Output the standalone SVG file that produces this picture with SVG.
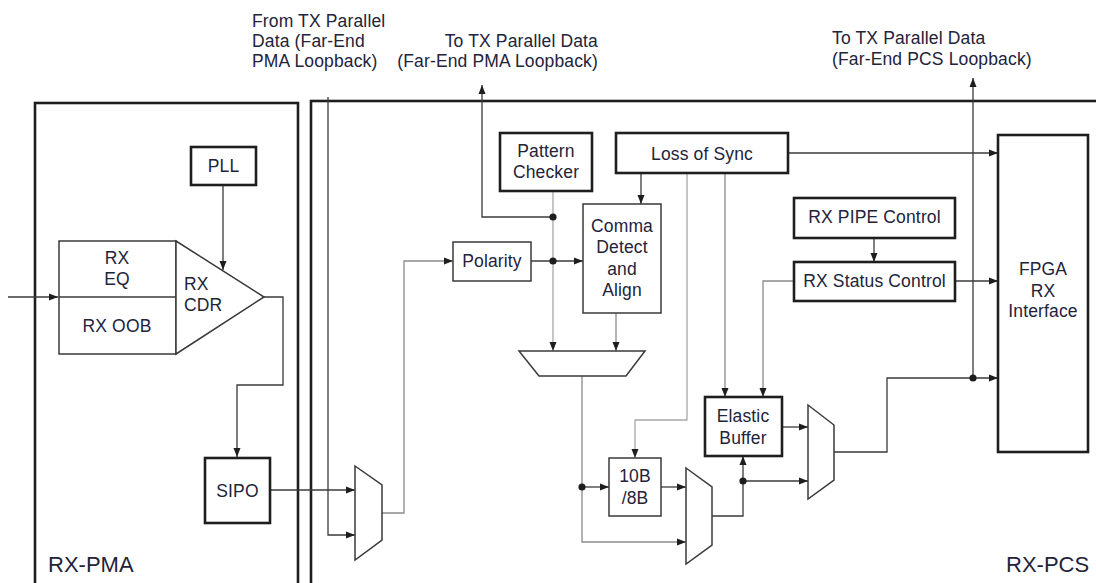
<svg xmlns="http://www.w3.org/2000/svg" width="1096" height="583" viewBox="0 0 1096 583">
  <style>
    text { font-family: "Liberation Sans", Arial, sans-serif; font-size: 17.5px; letter-spacing: 0.15px; fill: #23233a; }
    .mid { text-anchor: middle; }
    .end { text-anchor: end; }
    .big { font-size: 22px; letter-spacing: 0; }
    .frame { fill: none; stroke: #1e1e1e; stroke-width: 2.6; }
    .thick { fill: #fff; stroke: #1e1e1e; stroke-width: 2.6; }
    .thin { fill: #fff; stroke: #3a3a3a; stroke-width: 1.5; }
    .wire { fill: none; stroke: #3a3a3a; stroke-width: 1.3; }
    .wire.grey { stroke: #8a8a8a; }
    .wire.light { stroke: #a8a8a8; }
    .arr { marker-end: url(#head); }
    .dot { fill: #1e1e1e; }
  </style>
  <defs>
    <marker id="head" markerUnits="userSpaceOnUse" markerWidth="10" markerHeight="8" refX="9" refY="4" orient="auto">
      <path d="M0,0.5 L9,4 L0,7.5 Z" fill="#1e1e1e"/>
    </marker>
  </defs>

  <rect width="1096" height="583" fill="#fff"/>

  <!-- block outlines -->
  <g id="rx-pma">
    <rect class="frame" x="35" y="103" width="263" height="500"/>
    <text class="big" x="48" y="572">RX-PMA</text>
  </g>
  <g id="rx-pcs">
    <rect class="frame" x="311" y="101" width="800" height="500"/>
    <text class="big" x="1006" y="572">RX-PCS</text>
  </g>

  <!-- loopback labels -->
  <g id="label-pma-in">
    <text x="252" y="26.5">From TX Parallel</text>
    <text x="252" y="46.5">Data (Far-End</text>
    <text x="252" y="66.5">PMA Loopback)</text>
  </g>
  <g id="label-pma-out">
    <text class="end" x="598" y="46.5">To TX Parallel Data</text>
    <text class="end" x="598" y="66.5">(Far-End PMA Loopback)</text>
  </g>
  <g id="label-pcs-out">
    <text x="832" y="43.5">To TX Parallel Data</text>
    <text x="832" y="64.5">(Far-End PCS Loopback)</text>
  </g>

  <!-- connectors -->
  <g id="connectors">
    <path class="wire arr" d="M8,297 H58"/>
    <path class="wire arr" d="M223,185 V270"/>
    <path class="wire arr" d="M264,297 H283 V385 H237 V457"/>
    <path class="wire arr" d="M270,490 H355"/>
    <path class="wire arr" d="M328,97 V535 H355"/>
    <path class="wire grey arr" d="M382,513 H404 V261 H453"/>
    <path class="wire arr" d="M531,261 H583"/>
    <path class="wire arr" d="M553,217 H482 V85"/>
    <path class="wire light arr" d="M553,191 V351"/>
    <path class="wire grey arr" d="M616,313 V351"/>
    <path class="wire arr" d="M641,173 V204"/>
    <path class="wire light arr" d="M687,173 V420 H635 V458"/>
    <path class="wire grey arr" d="M725,173 V397"/>
    <path class="wire arr" d="M788,153 H998"/>
    <path class="wire arr" d="M874,238 V262"/>
    <path class="wire arr" d="M955,281 H998"/>
    <path class="wire grey arr" d="M794,281 H763 V397"/>
    <path class="wire grey arr" d="M582,376 V542 H686"/>
    <path class="wire arr" d="M582,487 H609"/>
    <path class="wire arr" d="M661,487 H686"/>
    <path class="wire arr" d="M712,516 H743 V456"/>
    <path class="wire arr" d="M743,481 H808"/>
    <path class="wire arr" d="M782,427 H808"/>
    <path class="wire arr" d="M834,452 H887 V378 H998"/>
    <path class="wire arr" d="M973,378 V78"/>
    <circle class="dot" cx="553" cy="217" r="3.6"/>
    <circle class="dot" cx="553" cy="261" r="3.6"/>
    <circle class="dot" cx="582" cy="487" r="3.6"/>
    <circle class="dot" cx="743" cy="481" r="3.6"/>
    <circle class="dot" cx="973" cy="378" r="3.6"/>
  </g>

  <!-- RX-PMA nodes -->
  <g id="pll">
    <rect class="thick" x="191" y="147" width="65" height="38"/>
    <text class="mid" x="223.5" y="172">PLL</text>
  </g>
  <g id="rx-eq-oob">
    <rect class="thin" x="59" y="241" width="117" height="113"/>
    <line class="wire" x1="59" y1="297" x2="176" y2="297"/>
    <text class="mid" x="117" y="264">RX</text>
    <text class="mid" x="117" y="285">EQ</text>
    <text class="mid" x="117" y="332">RX OOB</text>
  </g>
  <g id="rx-cdr">
    <path class="thin" d="M176,241 L264,297 L176,354 Z"/>
    <text x="184" y="290">RX</text>
    <text x="184" y="311">CDR</text>
  </g>
  <g id="sipo">
    <rect class="thick" x="205" y="458" width="65" height="65"/>
    <text class="mid" x="237.5" y="497">SIPO</text>
  </g>

  <!-- RX-PCS nodes -->
  <g id="mux-loopback">
    <path class="thin" d="M355,466 L382,485 L382,540 L355,560 Z"/>
  </g>
  <g id="polarity">
    <rect class="thin" x="453" y="242" width="78" height="39"/>
    <text class="mid" x="492" y="267">Polarity</text>
  </g>
  <g id="pattern-checker">
    <rect class="thick" x="500" y="133" width="92" height="58"/>
    <text class="mid" x="546" y="157">Pattern</text>
    <text class="mid" x="546" y="178">Checker</text>
  </g>
  <g id="loss-of-sync">
    <rect class="thick" x="616" y="133" width="172" height="40"/>
    <text class="mid" x="702" y="160">Loss of Sync</text>
  </g>
  <g id="comma-detect">
    <rect class="thin" x="583" y="204" width="78" height="109"/>
    <text class="mid" x="622" y="231.5">Comma</text>
    <text class="mid" x="622" y="253">Detect</text>
    <text class="mid" x="622" y="274.5">and</text>
    <text class="mid" x="622" y="296">Align</text>
  </g>
  <g id="mux-align">
    <path class="thin" d="M519,351 L645,351 L626,376 L539,376 Z"/>
  </g>
  <g id="decoder">
    <rect class="thin" x="609" y="458" width="52" height="58"/>
    <text class="mid" x="635" y="482">10B</text>
    <text class="mid" x="635" y="503.5">/8B</text>
  </g>
  <g id="mux-decode">
    <path class="thin" d="M686,468 L712,487 L712,545 L686,564 Z"/>
  </g>
  <g id="elastic-buffer">
    <rect class="thick" x="705" y="397" width="77" height="59"/>
    <text class="mid" x="743" y="422">Elastic</text>
    <text class="mid" x="743" y="443.5">Buffer</text>
  </g>
  <g id="mux-buffer">
    <path class="thin" d="M808,405 L834,425 L834,480 L808,499 Z"/>
  </g>
  <g id="rx-pipe-control">
    <rect class="thick" x="794" y="198" width="161" height="40"/>
    <text class="mid" x="874.5" y="223">RX PIPE Control</text>
  </g>
  <g id="rx-status-control">
    <rect class="thick" x="794" y="262" width="161" height="39"/>
    <text class="mid" x="874.5" y="287">RX Status Control</text>
  </g>
  <g id="fpga-rx-interface">
    <rect class="thick" x="998" y="135" width="90" height="317"/>
    <text class="mid" x="1043" y="275">FPGA</text>
    <text class="mid" x="1043" y="296.5">RX</text>
    <text class="mid" x="1043" y="317">Interface</text>
  </g>
</svg>
